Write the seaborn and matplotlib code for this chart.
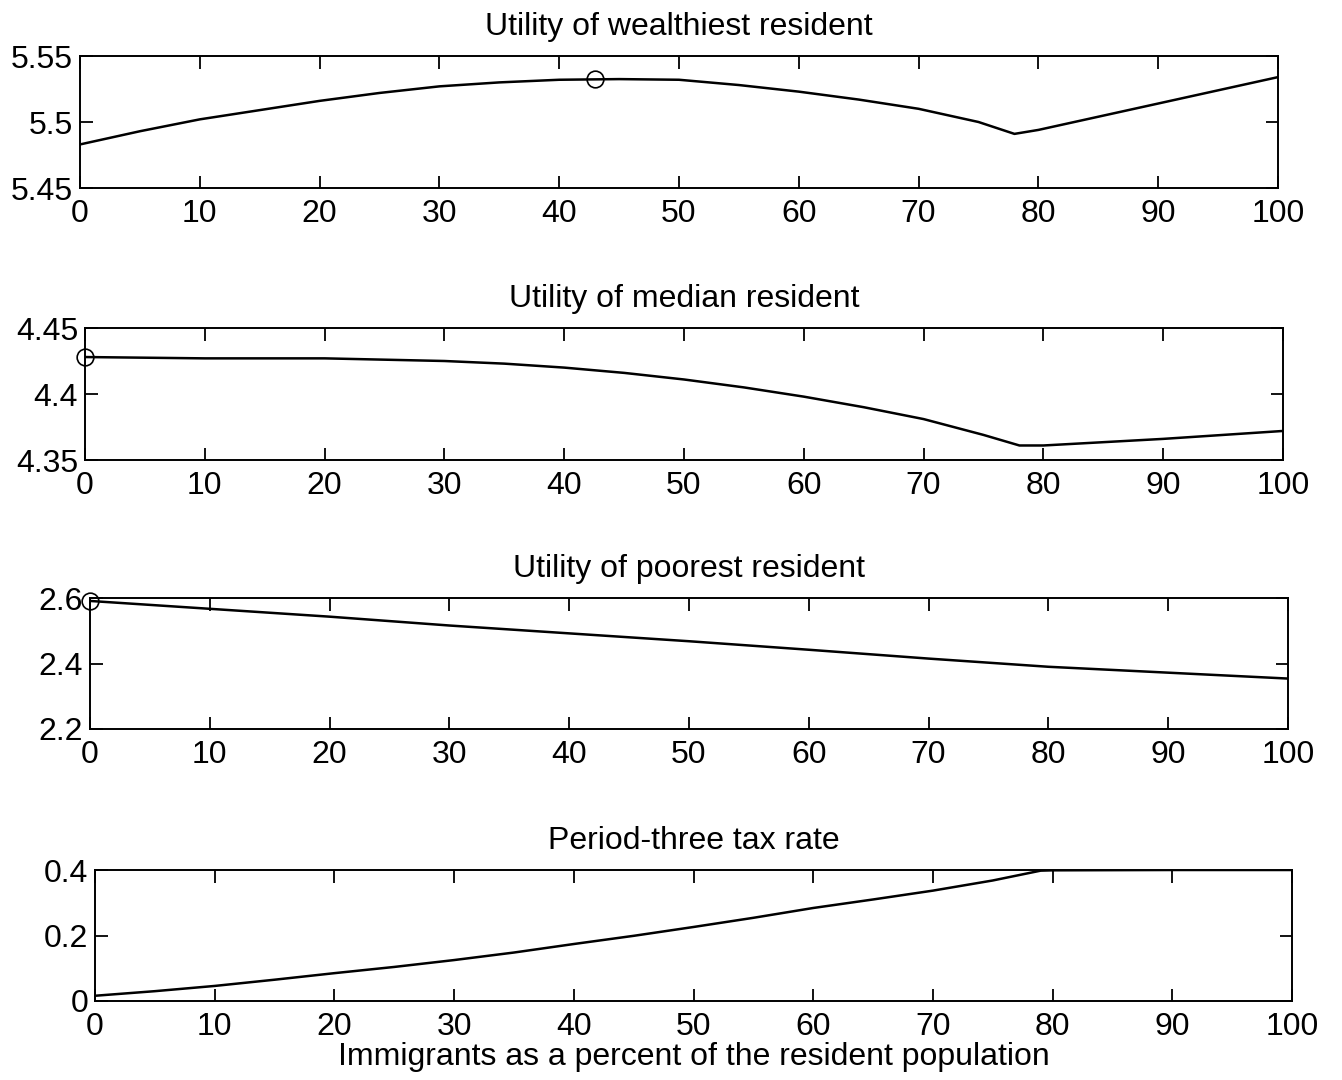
import numpy as np
import pandas as pd
import matplotlib
matplotlib.use("Agg")
import matplotlib.pyplot as plt
import seaborn as sns

# Immigrants as a percent of the resident population
pct_wealthy = [0, 5, 10, 15, 20, 25, 30, 35, 40, 45, 50, 55, 60, 65, 70, 75, 78,
               80, 85, 90, 95, 100]
util_wealthy = [5.483, 5.493, 5.502, 5.509, 5.516, 5.522, 5.527, 5.530, 5.532, 5.5325,
                5.532, 5.528, 5.523, 5.517, 5.510, 5.500, 5.491, 5.494, 5.504, 5.514,
                5.524, 5.534]

pct_median = [0, 10, 20, 30, 35, 40, 45, 50, 55, 60, 65, 70, 75, 78, 80, 90, 100]
util_median = [4.428, 4.427, 4.427, 4.425, 4.423, 4.420, 4.416, 4.411, 4.405, 4.398,
               4.390, 4.381, 4.369, 4.361, 4.361, 4.366, 4.372]

pct_poor = [0, 10, 20, 30, 40, 50, 60, 70, 80, 90, 100]
util_poor = [2.591, 2.567, 2.543, 2.516, 2.492, 2.468, 2.442, 2.415, 2.390, 2.372, 2.354]

pct_tax = [0, 5, 10, 15, 20, 25, 30, 35, 40, 45, 50, 55, 60, 65, 70, 75, 79, 80, 90, 100]
tax_rate = [0.016, 0.030, 0.046, 0.065, 0.085, 0.104, 0.125, 0.148, 0.174, 0.199,
            0.226, 0.254, 0.284, 0.310, 0.337, 0.368, 0.398, 0.399, 0.400, 0.400]

# Optimum marked with a circle on each utility curve
opt_wealthy = (43, 5.5325)
opt_median = (0, 4.428)
opt_poor = (0, 2.591)

titles = ["Utility of wealthiest resident", "Utility of median resident",
          "Utility of poorest resident", "Period-three tax rate"]
ylims = [(5.45, 5.55), (4.35, 4.45), (2.2, 2.6), (0.0, 0.4)]
yticks = [[5.45, 5.5, 5.55], [4.35, 4.4, 4.45], [2.2, 2.4, 2.6], [0, 0.2, 0.4]]
ytick_labels = [["5.45", "5.5", "5.55"], ["4.35", "4.4", "4.45"],
                ["2.2", "2.4", "2.6"], ["0", "0.2", "0.4"]]
xticks = list(range(0, 101, 10))
xlabel = "Immigrants as a percent of the resident population"

sns.set_theme(style="ticks")
plt.rcParams["font.family"] = ["Liberation Sans", "DejaVu Sans"]
plt.rcParams["axes.linewidth"] = 1.4
plt.rcParams["axes.edgecolor"] = "black"

W, H = 1342, 1080
fig = plt.figure(figsize=(W / 100, H / 100), dpi=100)
fig.patch.set_facecolor("white")

# axes boxes in pixels: left, top, right, bottom
boxes = [(80, 56, 1278, 188), (85, 328, 1283, 460), (90, 598, 1288, 729), (95, 870, 1292, 1001)]

series = [(pct_wealthy, util_wealthy, opt_wealthy),
          (pct_median, util_median, opt_median),
          (pct_poor, util_poor, opt_poor),
          (pct_tax, tax_rate, None)]

fs = 23
for i, ((l, t, r, b), (xs, ys, opt)) in enumerate(zip(boxes, series)):
    ax = fig.add_axes([l / W, 1 - b / H, (r - l) / W, (b - t) / H])
    df = pd.DataFrame({"x": xs, "y": ys})
    sns.lineplot(data=df, x="x", y="y", ax=ax, color="black", linewidth=1.8)
    if opt is not None:
        ax.plot([opt[0]], [opt[1]], marker="o", markersize=12, markerfacecolor="none",
                markeredgecolor="black", markeredgewidth=1.2, clip_on=False)
    ax.set_xlim(0, 100)
    ax.set_ylim(*ylims[i])
    ax.set_xticks(xticks)
    ax.set_xticklabels([str(v) for v in xticks])
    ax.set_yticks(yticks[i])
    ax.set_yticklabels(ytick_labels[i])
    ax.tick_params(direction="in", length=9, width=1.3, top=True, right=True,
                   labelsize=fs, colors="black")
    ax.tick_params(axis="x", pad=8)
    ax.tick_params(axis="y", pad=5)
    for sp in ax.spines.values():
        sp.set_visible(True)
        sp.set_color("black")
    ax.set_xlabel("")
    ax.set_ylabel("")
    ax.set_title(titles[i], fontsize=fs, color="black", pad=15)
    if i == 3:
        ax.set_xlabel(xlabel, fontsize=fs, color="black", labelpad=0)

fig.savefig("out.png", dpi=100, facecolor="white")
